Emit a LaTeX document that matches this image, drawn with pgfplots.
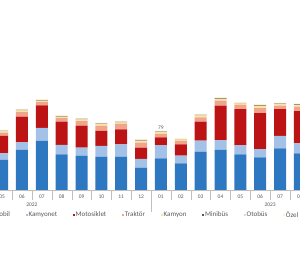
\documentclass[border=0pt]{standalone}
\usepackage{pgfplots}
\pgfplotsset{compat=1.18}
\usepackage{pgfplotstable}
\usepackage{fontspec}
\setmainfont{Carlito}
\definecolor{cOto}{HTML}{2E78C2}
\definecolor{cKmt}{HTML}{A4C2E8}
\definecolor{cMoto}{HTML}{BC1414}
\definecolor{cTrak}{HTML}{F0A48C}
\definecolor{cKamyon}{HTML}{FCE2A4}
\definecolor{cMini}{HTML}{5A5A3C}
\definecolor{cOtobus}{HTML}{D6DCE4}
\definecolor{cOzel}{HTML}{FFF2CC}
\definecolor{cTxt}{HTML}{595959}
\pgfplotstableread{
x oto kmt moto trak kamyon mini otobus ozel
0  40.0 8.7  23.3 4.4 2.0 0.5 0.4 0.7
1  53.3 10.3 34.1 5.9 2.4 0.7 0.4 0.9
2  65.3 17.3 30.2 4.4 2.0 0.5 0.4 0.7
3  47.6 12.4 31.0 4.9 2.0 0.5 0.4 0.7
4  45.7 10.7 29.3 5.9 2.4 0.7 0.4 0.9
5  44.4 14.3 20.0 6.7 2.4 0.7 0.4 0.9
6  44.4 16.5 20.0 7.1 2.2 0.6 0.4 0.8
7  29.7 11.6 15.1 6.7 2.7 0.7 0.5 1.0
8  42.2 17.7 10.3 4.4 2.4 0.7 0.4 0.9
9  35.6 10.1 15.2 4.4 2.0 0.5 0.4 0.7
10 51.0 14.7 25.3 5.9 2.4 0.7 0.4 0.9
11 53.3 13.3 45.7 6.7 2.5 0.7 0.4 0.9
12 47.6 12.0 48.0 5.7 2.0 0.5 0.4 0.7
13 43.6 10.7 48.0 6.7 2.9 0.8 0.5 1.1
14 55.6 16.4 35.6 4.8 2.2 0.6 0.4 0.8
15 48.9 13.3 43.0 5.7 2.5 0.7 0.4 0.9
}\data
\begin{document}
\begin{tikzpicture}
\useasboundingbox (0pt,-72pt) rectangle (300pt,190pt);
\begin{axis}[
  scale only axis, width=300pt, height=140pt,
  at={(0pt,0pt)}, anchor=south west,
  xmin=-0.108, xmax=15.005, ymin=0, ymax=186.5,
  ybar stacked, bar width=12pt, clip=false,
  axis x line*=bottom, axis y line=none,
  x axis line style={draw=gray!50},
  xtick={0,...,15},
  xticklabels={05,06,07,08,09,10,11,12,01,02,03,04,05,06,07,08},
  major tick length=0pt,
  minor xtick={-0.5,0.5,...,15.5},
  minor tick length=10pt, tick align=outside,
  minor tick style={draw=gray!50},
  xticklabel style={font=\fontsize{5.5}{6}\selectfont, text=cTxt, yshift=-1.5pt},
  legend columns=-1,
  legend style={at={(axis description cs:-0.0667,-0.1786)}, anchor=west,
    draw=none, fill=none, inner sep=0pt,
    font=\fontsize{7}{8}\selectfont, text=cTxt,
    nodes={inner sep=0.6pt},
    /tikz/every even column/.append style={column sep=15pt}},
  legend image code/.code={\fill[#1] (0pt,-1.2pt) rectangle (2.4pt,1.2pt);},
]
\addplot[fill=cOto, draw=none] table[x=x,y=oto] {\data};
\addplot[fill=cKmt, draw=none] table[x=x,y=kmt] {\data};
\addplot[fill=cMoto, draw=none] table[x=x,y=moto] {\data};
\addplot[fill=cTrak, draw=none] table[x=x,y=trak] {\data};
\addplot[fill=cKamyon, draw=none] table[x=x,y=kamyon] {\data};
\addplot[fill=cMini, draw=none] table[x=x,y=mini] {\data};
\addplot[fill=cOtobus, draw=none] table[x=x,y=otobus] {\data};
\addplot[fill=cOzel, draw=none] table[x=x,y=ozel] {\data};
\legend{Otomobil,Kamyonet,Motosiklet,Traktör,Kamyon,Minibüs,Otobüs,Özel amaçlı taşıt}
\node[anchor=south, font=\fontsize{5.5}{6}\selectfont, text=cTxt, inner sep=1pt] at (axis cs:8,79) {79};
\draw[gray!50] (axis cs:7.5,0) -- ++(0pt,-22pt);
\node[font=\fontsize{5.5}{6}\selectfont, text=cTxt] at (axis cs:1.5,0) [yshift=-15pt] {2022};
\node[font=\fontsize{5.5}{6}\selectfont, text=cTxt] at (axis cs:13.5,0) [yshift=-15pt] {2023};
\end{axis}
\end{tikzpicture}
\end{document}
